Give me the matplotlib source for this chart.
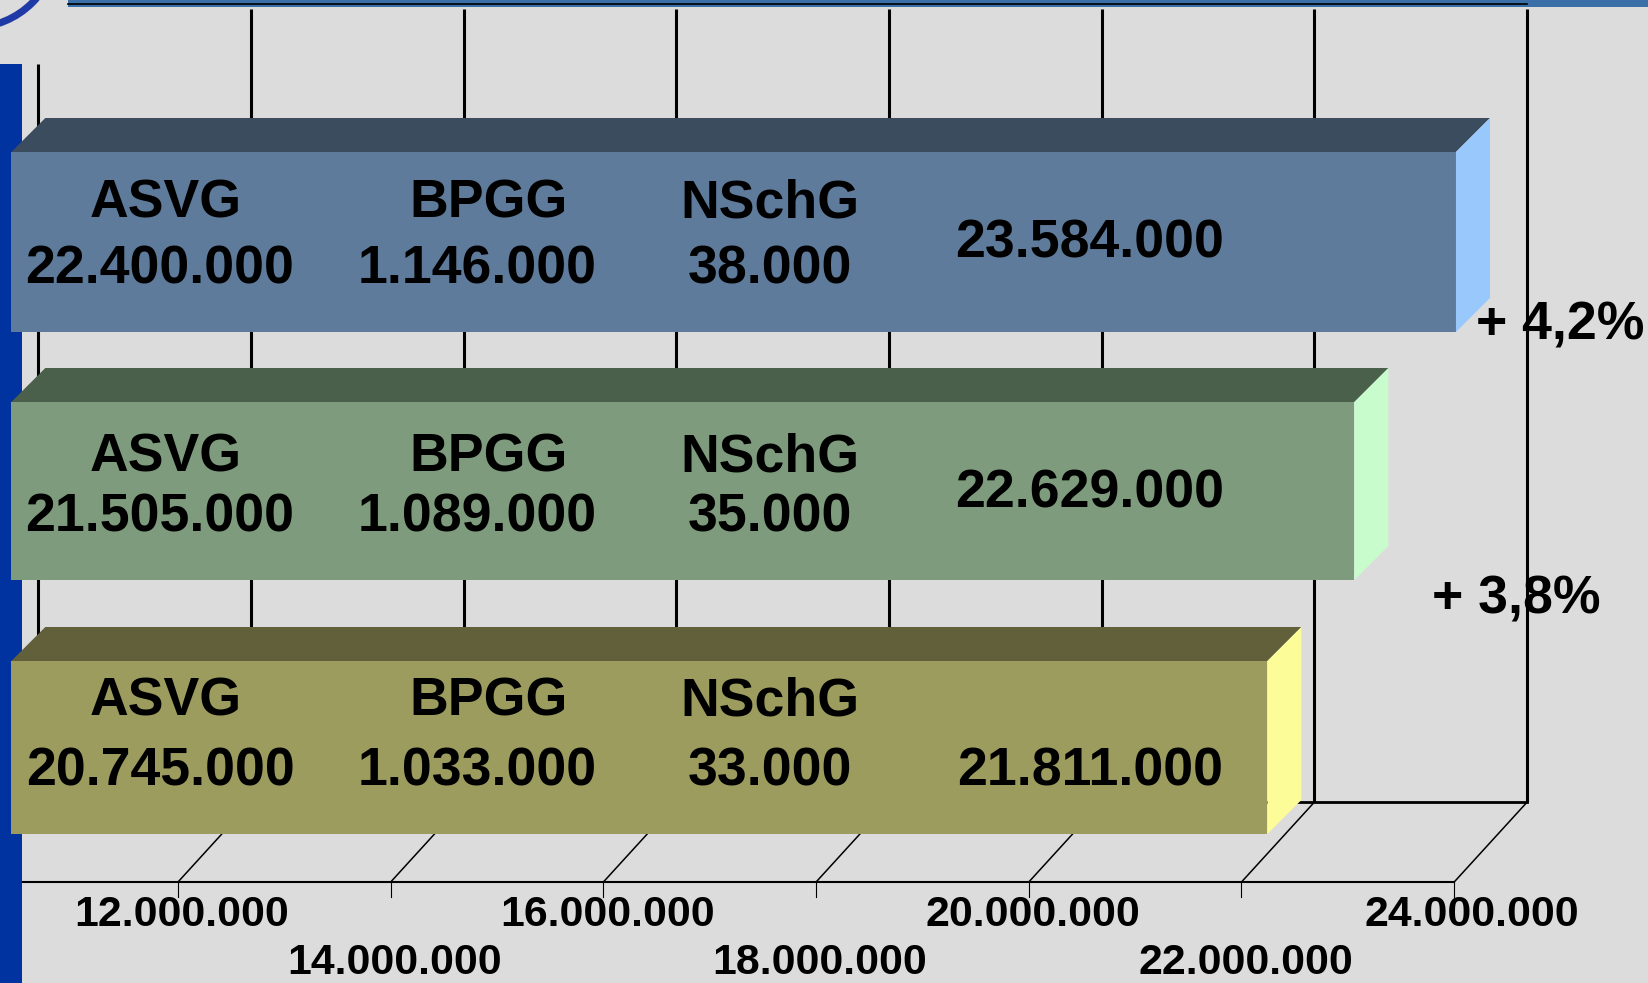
import matplotlib
matplotlib.use("Agg")
import matplotlib.pyplot as plt
from matplotlib.patches import Rectangle, Polygon, Ellipse

# ---------------- data ----------------
asvg = [20745000, 21505000, 22400000]     # bottom -> top bar
bpgg = [1033000, 1089000, 1146000]
nschg = [33000, 35000, 38000]
totals = [21811000, 22629000, 23584000]
growth = ["+ 3,8%", "+ 4,2%"]
tick_values = [12000000, 14000000, 16000000, 18000000, 20000000, 22000000, 24000000]
axis_min = 10000000

# ---------------- style / layout ----------------
W, H = 1649, 983
PXM = 106.35              # pixels per million on the front axis
X12 = 178                 # pixel of 12 Mio on the front axis
BG = "#dcdcdc"
front_cols = ["#9c9c5e", "#7e9c7d", "#5e7b9b"]
top_cols = ["#62603a", "#4a604a", "#3b4c5e"]
side_cols = ["#fcfc98", "#c8fccc", "#99c8fc"]
bar_top = [661, 402, 152]
bar_bot = [834, 580, 332]
name_y = [702, 458, 204]
val_y = [771, 517, 269]
tot_y = [771, 493, 244]
name_x = [166, 489, 770]
val_x = [160, 477, 770]
tot_x = 1090
growth_pos = [(1516, 599), (1560, 325)]

def px(xp):
    """pixel column -> value (millions)"""
    return 12 + (xp - X12) / PXM

FDX = 46 / PXM      # bar front face offset
BDX = 34 / PXM      # bar depth in x
BDY = 34            # bar depth in y
WDX = 73 / PXM      # full depth (back wall) offset
FRONT_Y = 882
BACK_Y = 802
WALL_TOP = 9

fig = plt.figure(figsize=(W / 100, H / 100), dpi=100)
fig.patch.set_facecolor(BG)
ax = fig.add_axes([0, 0, 1, 1])
ax.set_xlim(px(0), px(W))
ax.set_ylim(H, 0)
ax.axis("off")
ax.set_facecolor(BG)

tv = [t / 1e6 for t in tick_values]
vmin = axis_min / 1e6

# back wall gridlines
for v in [vmin] + tv:
    y0 = 64 if v == vmin else WALL_TOP
    ax.plot([v + WDX, v + WDX], [y0, BACK_Y], color="black", lw=2.2, zorder=1,
            solid_capstyle="butt")
# back floor edge
ax.plot([vmin + WDX, tv[-1] + WDX], [BACK_Y, BACK_Y], color="black", lw=2.0, zorder=1)
# floor diagonals and ticks
for v in tv:
    ax.plot([v, v + WDX], [FRONT_Y, BACK_Y], color="black", lw=1.1, zorder=1)
    ax.plot([v, v], [FRONT_Y, FRONT_Y + 15], color="black", lw=0.8, zorder=1)
# front axis line
ax.plot([vmin, tv[-1]], [FRONT_Y, FRONT_Y], color="black", lw=1.5, zorder=1)

# decorations: left blue bar, top strip, arc
ax.add_patch(Rectangle((px(0), 64), px(22) - px(0), H - 64, color="#0033a0", lw=0, zorder=2))
ax.add_patch(Rectangle((px(68), 0), px(W) - px(68), 7, color="#3a6fa8", lw=0, zorder=2))
ax.plot([px(68), tv[-1] + WDX], [4.2, 4.2], color="black", lw=1.2, zorder=2)
ax.add_patch(Ellipse((px(-27.5), -57), 2 * 84.5 / PXM, 169, fill=False,
                     edgecolor="#1f3aa6", lw=5.2, zorder=2))

# bars
for i in range(3):
    v = totals[i] / 1e6
    t, b = bar_top[i], bar_bot[i]
    x0 = vmin + FDX
    x1 = v + FDX
    ax.add_patch(Rectangle((x0, t), x1 - x0, b - t, facecolor=front_cols[i], lw=0, zorder=3))
    ax.add_patch(Polygon([(x0, t), (x1, t), (x1 + BDX, t - BDY), (x0 + BDX, t - BDY)],
                         closed=True, facecolor=top_cols[i], lw=0, zorder=3))
    ax.add_patch(Polygon([(x1, t), (x1 + BDX, t - BDY), (x1 + BDX, b - BDY), (x1, b)],
                         closed=True, facecolor=side_cols[i], lw=0, zorder=3))

def fmt(n):
    return f"{n:,}".replace(",", ".")

FONT = "Liberation Sans"
big = dict(fontsize=38.6, fontweight="bold", family=FONT, ha="center", va="center",
           color="black", zorder=5)
cols = [("ASVG", asvg), ("BPGG", bpgg), ("NSchG", nschg)]
for i in range(3):
    for k, (name, arr) in enumerate(cols):
        ax.text(px(name_x[k]), name_y[i], name, **big)
        ax.text(px(val_x[k]), val_y[i], fmt(arr[i]), **big)
    ax.text(px(tot_x), tot_y[i], fmt(totals[i]), **big)

for (gx, gy), g in zip(growth_pos, growth):
    ax.text(px(gx), gy, g, **big)

# tick labels
for k, v in enumerate(tv):
    y = 915 if k % 2 == 0 else 963
    ax.text(v + (18 / PXM if k == len(tv) - 1 else 4 / PXM), y, fmt(tick_values[k]),
            fontsize=30.8, fontweight="bold", family=FONT, ha="center", va="center",
            color="black", zorder=5)

fig.savefig("out.png", dpi=100, facecolor=BG)
